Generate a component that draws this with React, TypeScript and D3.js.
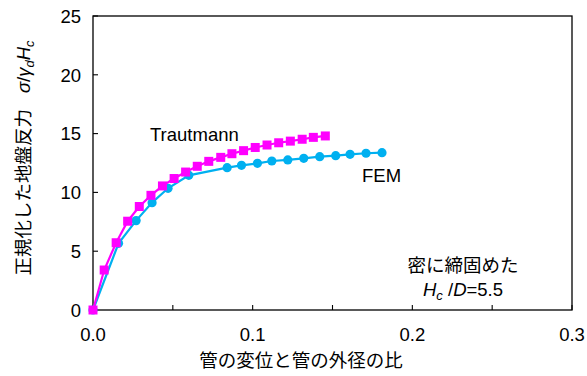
import React from "react";
import * as d3 from "d3";

// Displacement ratio (pipe displacement / pipe outer diameter) and normalized reaction
const femX = [0, 0.016, 0.027, 0.037, 0.047, 0.060, 0.084, 0.093, 0.103, 0.112, 0.122, 0.132, 0.142, 0.152, 0.161, 0.171, 0.181];
const femY = [0, 5.67, 7.6, 9.13, 10.35, 11.45, 12.1, 12.3, 12.47, 12.67, 12.76, 12.9, 13.04, 13.12, 13.24, 13.33, 13.38];

const trautX = [0, 0.007, 0.0145, 0.0217, 0.029, 0.0363, 0.0435, 0.0508, 0.058, 0.0653, 0.0725, 0.08, 0.087, 0.0943, 0.1016, 0.109, 0.1163, 0.1236, 0.131, 0.138, 0.1455];
const trautY = [0, 3.4, 5.72, 7.55, 8.8, 9.75, 10.55, 11.18, 11.73, 12.22, 12.64, 12.98, 13.29, 13.55, 13.82, 14.03, 14.22, 14.36, 14.52, 14.68, 14.8];

const xTicks = [0, 0.05, 0.1, 0.15, 0.2, 0.25, 0.3];
const xLabels = [0, 0.1, 0.2, 0.3];
const yTicks = [0, 5, 10, 15, 20, 25];

const W = 587;
const H = 376;
const left = 93;
const right = 572;
const top = 16;
const bottom = 310;

const LATIN = "'Liberation Sans', Arial, sans-serif";
const CJK = "'Noto Sans CJK JP', 'Noto Sans', sans-serif";
const BLUE = "#00B0F0";
const MAGENTA = "#FF00FF";
const FS = 18.5;

export default function App() {
  const x = d3.scaleLinear().domain([0, 0.3]).range([left, right]);
  const y = d3.scaleLinear().domain([0, 25]).range([bottom, top]);

  const fem = femX.map((v, i) => [v, femY[i]] as [number, number]);
  const traut = trautX.map((v, i) => [v, trautY[i]] as [number, number]);
  const line = d3
    .line<[number, number]>()
    .x((d) => x(d[0]))
    .y((d) => y(d[1]));

  const tickLen = 5;
  const sq = 9;

  return (
    <svg
      width={W}
      height={H}
      style={{ position: "absolute", left: 0, top: 0, background: "#fff" }}
    >
      <rect x={0} y={0} width={W} height={H} fill="#fff" />

      {/* plot frame */}
      <rect
        x={left}
        y={top}
        width={right - left}
        height={bottom - top}
        fill="none"
        stroke="#000"
        strokeWidth={1.3}
      />

      {/* x ticks (inward) */}
      {xTicks.map((t) => (
        <line key={"xt" + t} x1={x(t)} x2={x(t)} y1={bottom} y2={bottom - tickLen} stroke="#000" strokeWidth={1.1} />
      ))}
      {xLabels.map((t) => (
        <text key={"xl" + t} x={x(t)} y={341} textAnchor="middle" fontFamily={LATIN} fontSize={FS} fill="#000">
          {d3.format(".1f")(t)}
        </text>
      ))}

      {/* y ticks (inward) */}
      {yTicks.map((t) => (
        <line key={"yt" + t} x1={left} x2={left + tickLen} y1={y(t)} y2={y(t)} stroke="#000" strokeWidth={1.1} />
      ))}
      {yTicks.map((t) => (
        <text key={"yl" + t} x={81} y={y(t) + 6.7} textAnchor="end" fontFamily={LATIN} fontSize={FS} fill="#000">
          {t}
        </text>
      ))}

      {/* FEM series */}
      <path d={line(fem) || ""} fill="none" stroke={BLUE} strokeWidth={2.2} />
      {fem.map((d, i) => (
        <circle key={"fc" + i} cx={x(d[0])} cy={y(d[1])} r={4.6} fill={BLUE} />
      ))}

      {/* Trautmann series */}
      <path d={line(traut) || ""} fill="none" stroke={MAGENTA} strokeWidth={2.2} />
      {traut.map((d, i) => (
        <rect key={"ts" + i} x={x(d[0]) - sq / 2} y={y(d[1]) - sq / 2} width={sq} height={sq} fill={MAGENTA} />
      ))}

      {/* series labels */}
      <text x={150} y={141} fontFamily={LATIN} fontSize={FS} fill="#000">Trautmann</text>
      <text x={362} y={182} fontFamily={LATIN} fontSize={FS} fill="#000">FEM</text>

      {/* condition note */}
      <text x={463} y={272} textAnchor="middle" fontFamily={CJK} fontSize={FS} fill="#000">密に締固めた</text>
      <text x={463} y={296} textAnchor="middle" fontFamily={LATIN} fontSize={FS} fill="#000">
        <tspan fontStyle="italic">H</tspan>
        <tspan fontSize={13} dy={4} fontStyle="italic">c</tspan>
        <tspan dy={-4}> /</tspan>
        <tspan fontStyle="italic">D</tspan>
        <tspan>=5.5</tspan>
      </text>

      {/* x axis title */}
      <text x={301} y={367} textAnchor="middle" fontFamily={CJK} fontSize={FS} fill="#000">管の変位と管の外径の比</text>

      {/* y axis title */}
      <text transform="translate(30,158) rotate(-90)" textAnchor="middle" fontSize={FS} fill="#000">
        <tspan fontFamily={CJK}>正規化した地盤反力</tspan>
        <tspan fontFamily={LATIN} dx={16} fontStyle="italic">σ</tspan>
        <tspan fontFamily={LATIN}>/</tspan>
        <tspan fontFamily={LATIN} fontStyle="italic">γ</tspan>
        <tspan fontFamily={LATIN} fontStyle="italic" fontSize={13} dy={4}>d</tspan>
        <tspan fontFamily={LATIN} fontStyle="italic" dy={-4}>H</tspan>
        <tspan fontFamily={LATIN} fontStyle="italic" fontSize={13} dy={4}>c</tspan>
      </text>
    </svg>
  );
}
